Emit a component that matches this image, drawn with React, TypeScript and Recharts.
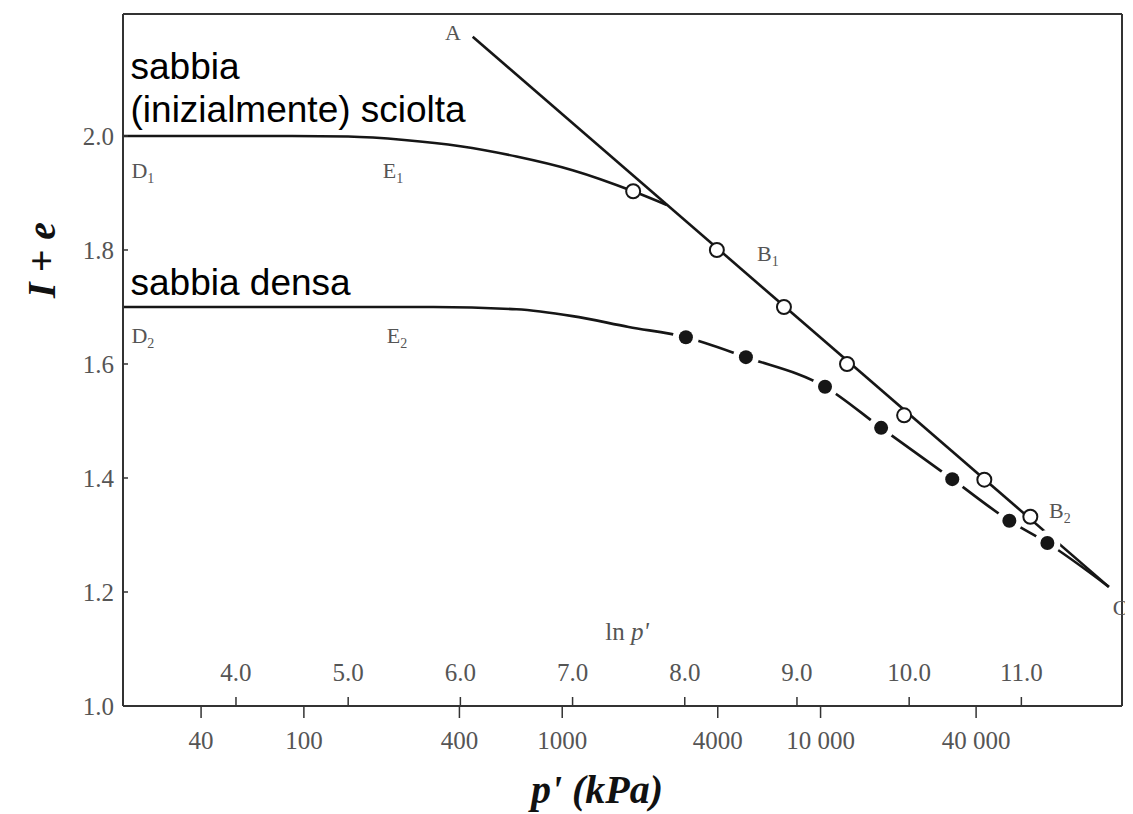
import React from "react";
import {
  ComposedChart,
  Line,
  Scatter,
  XAxis,
  YAxis,
  ReferenceLine,
  ReferenceDot,
} from "recharts";

// ---- axis ticks ----
const lnTicks = [4, 5, 6, 7, 8, 9, 10, 11];
const lnTickLabels = ["4.0", "5.0", "6.0", "7.0", "8.0", "9.0", "10.0", "11.0"];
const pTicks = [40, 100, 400, 1000, 4000, 10000, 40000];
const pTickLabels = ["40", "100", "400", "1000", "4000", "10 000", "40 000"];
const yTicks = [1.0, 1.2, 1.4, 1.6, 1.8, 2.0];
const yTickLabels = ["1.0", "1.2", "1.4", "1.6", "1.8", "2.0"];

const X_DOMAIN = [2.993, 11.897];
const Y_DOMAIN = [1.0, 2.214];

// ---- loose sand curve D1 - E1 (ln p', 1+e) ----
const looseLn = [2.993, 4.5, 5.0, 5.5, 6.0, 6.5, 7.0, 7.54, 7.84];
const looseE = [2.0, 2.0, 1.999, 1.993, 1.982, 1.964, 1.94, 1.903, 1.879];

// ---- normal compression line A - C ----
const nclLn = [6.11, 11.78];
const nclE = [2.174, 1.209];

// ---- dense sand curve D2 - E2 - C ----
const denseLn = [2.993, 5.0, 5.76, 6.5, 7.0, 7.5, 8.01, 8.545, 9.25, 9.75, 10.384, 10.893, 11.232, 11.78];
const denseE = [1.7, 1.7, 1.7, 1.696, 1.684, 1.665, 1.647, 1.612, 1.56, 1.488, 1.398, 1.325, 1.286, 1.209];

// ---- measured points ----
const openLn = [7.54, 8.286, 8.884, 9.446, 9.955, 10.67, 11.08];
const openE = [1.903, 1.8, 1.7, 1.6, 1.51, 1.397, 1.332];
const filledLn = [8.01, 8.545, 9.25, 9.75, 10.384, 10.893, 11.232];
const filledE = [1.647, 1.612, 1.56, 1.488, 1.398, 1.325, 1.286];

// ---- point letters ----
const letterText = ["A", "D", "E", "B", "D", "E", "B", "C"];
const letterSub = ["", "1", "1", "1", "2", "2", "2", ""];
const letterLn = [5.934, 3.17, 5.4, 8.74, 3.17, 5.435, 11.344, 11.88];
const letterE = [2.182, 1.94, 1.94, 1.795, 1.651, 1.651, 1.344, 1.174];

// ---- curve captions ----
const captionText = ["sabbia", "(inizialmente) sciolta", "sabbia densa"];
const captionLn = [3.06, 3.06, 3.06];
const captionE = [2.1, 2.024, 1.721];

const toPts = (xs: number[], ys: number[]) => xs.map((x, i) => ({ x, y: ys[i] }));

const SERIF = "'Liberation Serif', 'Times New Roman', serif";
const SANS = "'Liberation Sans', Arial, sans-serif";
const GRAY = "#555";
const INK = "#161616";

const XTick = (props: any) => {
  const { x, y, payload } = props;
  const v = payload.value;
  const li = lnTicks.findIndex((t) => Math.abs(t - v) < 1e-9);
  if (li >= 0) {
    return (
      <g>
        <line x1={x} y1={y} x2={x} y2={y - 9} stroke="#333" strokeWidth={1.5} />
        <text x={x} y={y - 25} textAnchor="middle" fontFamily={SERIF} fontSize={25} fill={GRAY}>
          {lnTickLabels[li]}
        </text>
      </g>
    );
  }
  const pi = pTicks.findIndex((p) => Math.abs(Math.log(p) - v) < 1e-9);
  return (
    <g>
      <line x1={x} y1={y} x2={x} y2={y + 12} stroke="#333" strokeWidth={1.5} />
      <text x={x} y={y + 43} textAnchor="middle" fontFamily={SERIF} fontSize={25} fill={GRAY}>
        {pi >= 0 ? pTickLabels[pi] : ""}
      </text>
    </g>
  );
};

const YTick = (props: any) => {
  const { x, y, payload } = props;
  const i = yTicks.findIndex((t) => Math.abs(t - payload.value) < 1e-9);
  return (
    <g>
      <line x1={x} y1={y} x2={x + 5} y2={y} stroke="#333" strokeWidth={1.5} />
      <text x={x - 9} y={y + 9} textAnchor="end" fontFamily={SERIF} fontSize={25} fill={GRAY}>
        {i >= 0 ? yTickLabels[i] : ""}
      </text>
    </g>
  );
};

const OpenDot = (props: any) => (
  <circle cx={props.cx} cy={props.cy} r={7} fill="#fff" stroke={INK} strokeWidth={2} />
);

const FilledDot = (props: any) => (
  <g>
    <circle cx={props.cx} cy={props.cy} r={13} fill="#fff" />
    <circle cx={props.cx} cy={props.cy} r={7} fill={INK} />
  </g>
);

export default function App() {
  const ticksX = [...lnTicks, ...pTicks.map((p) => Math.log(p))];

  return (
    <div style={{ width: 1125, height: 806 }}>
      <ComposedChart
        width={1125}
        height={806}
        margin={{ top: 6, right: 11, bottom: 8, left: 15 }}
      >
        <XAxis
          dataKey="x"
          type="number"
          domain={X_DOMAIN}
          allowDataOverflow
          ticks={ticksX}
          interval={0}
          tickSize={0}
          tickMargin={0}
          tick={<XTick />}
          height={100}
          axisLine={{ stroke: "#333", strokeWidth: 2 }}
          label={(p: any) => {
            const vb = p.viewBox;
            return (
              <text
                x={vb.x + 474}
                y={vb.y + 97}
                textAnchor="middle"
                fontFamily={SERIF}
                fontSize={40}
                fontWeight="bold"
                fontStyle="italic"
                fill="#111"
              >
                p' (kPa)
              </text>
            );
          }}
        />
        <YAxis
          dataKey="y"
          type="number"
          domain={Y_DOMAIN}
          allowDataOverflow
          ticks={yTicks}
          interval={0}
          tickSize={0}
          tickMargin={0}
          tick={<YTick />}
          width={100}
          axisLine={{ stroke: "#333", strokeWidth: 2 }}
          label={(p: any) => {
            const vb = p.viewBox;
            const cx = vb.x + 18;
            const cy = vb.y + 246;
            return (
              <text
                x={cx}
                y={cy}
                transform={`rotate(-90 ${cx} ${cy})`}
                textAnchor="middle"
                dominantBaseline="central"
                fontFamily={SERIF}
                fontSize={40}
                fontWeight="bold"
                fontStyle="italic"
                fill="#111"
              >
                I + e
              </text>
            );
          }}
        />

        <ReferenceLine y={Y_DOMAIN[1]} stroke="#333" strokeWidth={2} ifOverflow="visible" />
        <ReferenceLine x={X_DOMAIN[1]} stroke="#333" strokeWidth={2} ifOverflow="visible" />

        <Line
          data={toPts(denseLn, denseE)}
          dataKey="y"
          type="monotone"
          stroke={INK}
          strokeWidth={2.6}
          dot={false}
          activeDot={false}
          isAnimationActive={false}
        />
        <Scatter
          data={toPts(filledLn, filledE)}
          dataKey="y"
          shape={(p: any) => <FilledDot {...p} />}
          isAnimationActive={false}
        />
        <Line
          data={toPts(looseLn, looseE)}
          dataKey="y"
          type="monotone"
          stroke={INK}
          strokeWidth={2.6}
          dot={false}
          activeDot={false}
          isAnimationActive={false}
        />
        <Line
          data={toPts(nclLn, nclE)}
          dataKey="y"
          type="linear"
          stroke={INK}
          strokeWidth={2.6}
          dot={false}
          activeDot={false}
          isAnimationActive={false}
        />
        <Scatter
          data={toPts(openLn, openE)}
          dataKey="y"
          shape={(p: any) => <OpenDot {...p} />}
          isAnimationActive={false}
        />

        {letterText.map((t, i) => (
          <ReferenceDot
            key={`lt${i}`}
            x={letterLn[i]}
            y={letterE[i]}
            r={0}
            ifOverflow="visible"
            shape={(p: any) => (
              <text
                x={p.cx}
                y={p.cy + 8}
                textAnchor="middle"
                fontFamily={SERIF}
                fontSize={22}
                fill={GRAY}
              >
                {t}
                {letterSub[i] ? (
                  <tspan fontSize={14} dy={5}>
                    {letterSub[i]}
                  </tspan>
                ) : null}
              </text>
            )}
          />
        ))}

        {captionText.map((t, i) => (
          <ReferenceDot
            key={`cap${i}`}
            x={captionLn[i]}
            y={captionE[i]}
            r={0}
            ifOverflow="visible"
            shape={(p: any) => (
              <text x={p.cx} y={p.cy} textAnchor="start" fontFamily={SANS} fontSize={37} fill="#000">
                {t}
              </text>
            )}
          />
        ))}

        <ReferenceDot
          x={7.485}
          y={1.13}
          r={0}
          ifOverflow="visible"
          shape={(p: any) => (
            <text x={p.cx} y={p.cy + 8} textAnchor="middle" fontFamily={SERIF} fontSize={25} fill={GRAY}>
              ln <tspan fontStyle="italic">p'</tspan>
            </text>
          )}
        />
      </ComposedChart>
    </div>
  );
}
